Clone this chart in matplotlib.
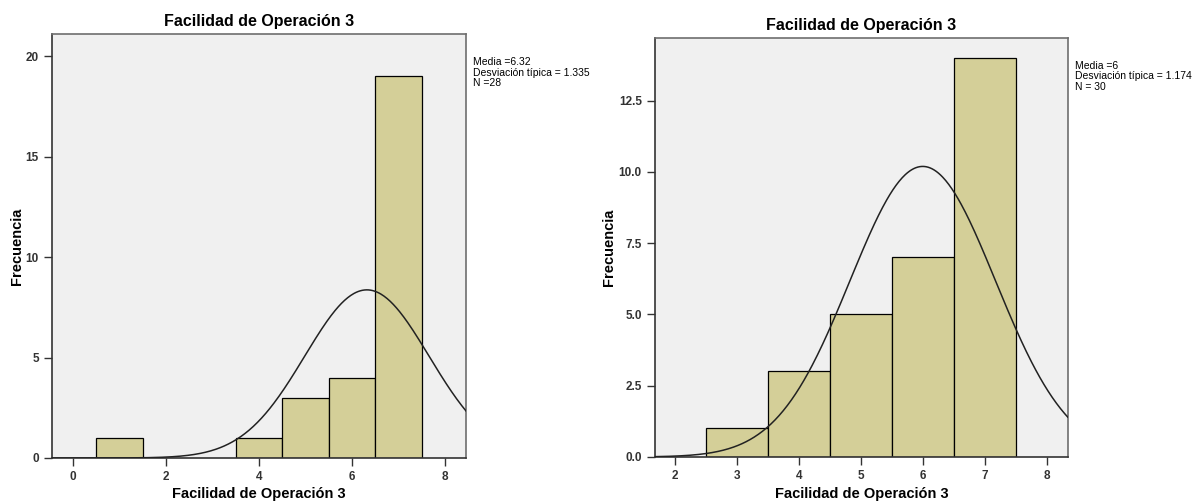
import numpy as np
import matplotlib
matplotlib.use("Agg")
import matplotlib.pyplot as plt

plt.rcParams['font.family'] = ['Liberation Sans', 'DejaVu Sans']

title = "Facilidad de Operación 3"
xlabel_left = "Facilidad de Operación 3"
xlabel_right = "Facilidad de Operación 3"
ylabel = "Frecuencia"

left_bins = [1, 4, 5, 6, 7]
left_counts = [1, 1, 3, 4, 19]
left_mean, left_sd, left_n = 6.32, 1.335, 28

right_bins = [3, 4, 5, 6, 7]
right_counts = [1, 3, 5, 7, 14]
right_mean, right_sd, right_n = 6.0, 1.174, 30

left_yticks = [0, 5, 10, 15, 20]
left_ylabels = ["0", "5", "10", "15", "20"]
left_xticks = [0, 2, 4, 6, 8]
right_yticks = [0, 2.5, 5.0, 7.5, 10.0, 12.5]
right_ylabels = ["0.0", "2.5", "5.0", "7.5", "10.0", "12.5"]
right_xticks = [2, 3, 4, 5, 6, 7, 8]

bar_color = "#D4CF98"
bg = "#F0F0F0"

fig = plt.figure(figsize=(12, 5.04), dpi=100)
axL = fig.add_axes([0.0433, 0.0913, 0.345, 0.8412])
axR = fig.add_axes([0.5458, 0.0933, 0.344, 0.8313])


def draw(ax, bins, counts, mean, sd, n, xlim, ylim, xticks, yticks, ylabels, xlabel,
         legend_text, ytitle, ylab_x, xlab_y):
    ax.set_facecolor(bg)
    ax.bar(bins, counts, width=1.0, color=bar_color, edgecolor="black", linewidth=0.9, zorder=2)
    xs = np.linspace(xlim[0], xlim[1], 400)
    ys = n * 1.0 / (sd * np.sqrt(2 * np.pi)) * np.exp(-0.5 * ((xs - mean) / sd) ** 2)
    ax.plot(xs, ys, color="#222222", linewidth=1.1, zorder=3)
    ax.set_xlim(*xlim)
    ax.set_ylim(*ylim)
    ax.set_xticks(xticks)
    ax.set_xticklabels([str(t) for t in xticks])
    ax.set_yticks(yticks)
    ax.set_yticklabels(ylabels)
    for s in ["top", "right"]:
        ax.spines[s].set_color("#6E6E6E")
        ax.spines[s].set_linewidth(1.2)
    for s in ["left", "bottom"]:
        ax.spines[s].set_color("#333333")
        ax.spines[s].set_linewidth(1.2)
    ax.tick_params(axis="both", direction="out", length=6, width=1, labelsize=8.5, color="#333333")
    for lab in ax.get_xticklabels() + ax.get_yticklabels():
        lab.set_fontweight("bold")
        lab.set_color("#333333")
    ax.set_xlabel(xlabel, fontsize=10.5, fontweight="bold")
    ax.set_ylabel(ytitle, fontsize=10.5, fontweight="bold")
    ax.xaxis.set_label_coords(0.5, xlab_y)
    ax.yaxis.set_label_coords(ylab_x, 0.5)
    ax.set_title(title, fontsize=11.5, fontweight="bold", pad=6)
    ax.text(1.017, 0.945, legend_text, transform=ax.transAxes, fontsize=7.5,
            va="top", ha="left", linespacing=1.05)


draw(axL, left_bins, left_counts, left_mean, left_sd, left_n, (-0.45, 8.45), (0, 21.1),
     left_xticks, left_yticks, left_ylabels, xlabel_left,
     "Media =6.32\nDesviación típica = 1.335\nN =28", ylabel, -0.068, -0.068)
draw(axR, right_bins, right_counts, right_mean, right_sd, right_n, (1.68, 8.34), (0, 14.7),
     right_xticks, right_yticks, right_ylabels, xlabel_right,
     "Media =6\nDesviación típica = 1.174\nN = 30", ylabel, -0.094, -0.072)

fig.savefig("out.png", dpi=100)
